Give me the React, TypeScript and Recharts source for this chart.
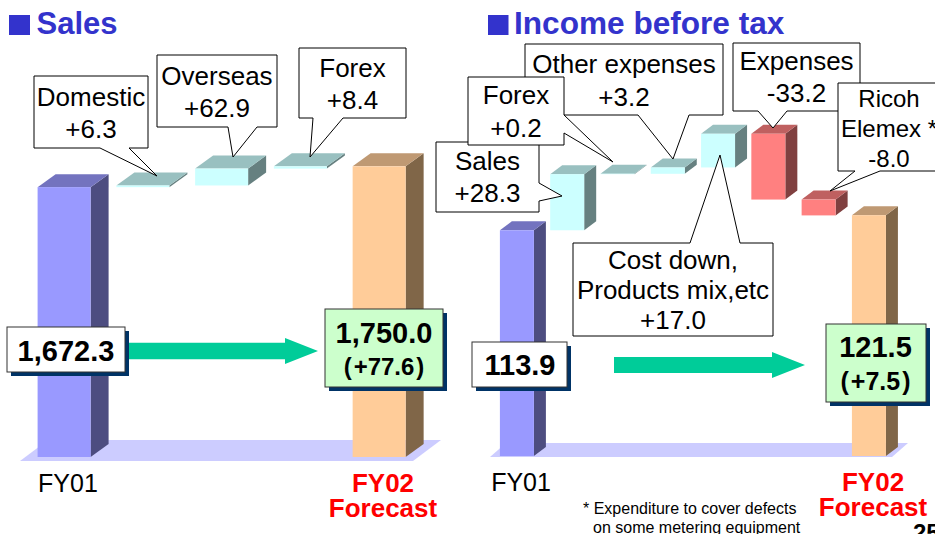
import { Bar, BarChart, XAxis, YAxis } from 'recharts'

const FONT = '"Liberation Sans", Arial, Helvetica, sans-serif'

// Sales (billions of yen)
const salesSteps = ['FY01', 'Domestic', 'Overseas', 'Forex', 'FY02']
const salesValues = [1672.3, 6.3, 62.9, 8.4, 1750.0]
const salesKinds = ['start', 'up', 'up', 'up', 'end']
const salesTicks = ['FY01', '', '', '', 'FY02\nForecast']
const salesChange = 77.6

// Income before tax (billions of yen)
const incomeSteps = [
  'FY01',
  'Sales',
  'Forex',
  'Other expenses',
  'Cost down,\nProducts mix,etc',
  'Expenses',
  'Ricoh\nElemex *',
  'FY02',
]
const incomeValues = [113.9, 28.3, 0.2, 3.2, 17.0, -33.2, -8.0, 121.5]
const incomeKinds = ['start', 'up', 'up', 'up', 'up', 'down', 'down', 'end']
const incomeTicks = ['FY01', '', '', '', '', '', '', 'FY02\nForecast']
const incomeChange = 7.5

const footnote = ['* Expenditure to cover defects', 'on some metering equipment']

type Kind = 'start' | 'up' | 'down' | 'end'

const faces: Record<Kind, { front: string; top: string; side: string }> = {
  start: { front: '#9999ff', top: '#7373bf', side: '#4d4d80' },
  up: { front: '#ccffff', top: '#99c0c0', side: '#668080' },
  down: { front: '#ff8080', top: '#bf6060', side: '#804040' },
  end: { front: '#ffcc99', top: '#bf9973', side: '#806648' },
}

function buildWaterfall(steps: string[], values: number[], kinds: string[], floor: number) {
  let run = 0
  return steps.map((name, i) => {
    const v = values[i]
    const kind = kinds[i] as Kind
    let range: [number, number]
    if (kind === 'start') {
      run = v
      range = [floor, v]
    } else if (kind === 'end') {
      range = [floor, v]
    } else {
      const next = run + v
      range = [Math.min(run, next), Math.max(run, next)]
      run = next
    }
    return { name, range, kind, value: v }
  })
}

const salesData = buildWaterfall(salesSteps, salesValues, salesKinds, 665)
const incomeData = buildWaterfall(incomeSteps, incomeValues, incomeKinds, 0)

// 3D box shape for the bars
const box3d = (dx: number, dy: number) => (props: any) => {
  const { x, y, width, height, payload } = props
  const top = Math.min(y, y + height)
  const h = Math.abs(height)
  const c = faces[payload.kind as Kind]
  const r = x + width
  return (
    <g>
      <polygon
        points={`${r},${top} ${r + dx},${top - dy} ${r + dx},${top + h - dy} ${r},${top + h}`}
        fill={c.side}
      />
      <polygon
        points={`${x},${top} ${x + dx},${top - dy} ${r + dx},${top - dy} ${r},${top}`}
        fill={c.top}
      />
      <rect x={x} y={top} width={width} height={h} fill={c.front} />
    </g>
  )
}

const yearTick = (labels: string[], kinds: string[]) => (p: any) => {
  const idx = p.payload?.index ?? p.index
  const label = labels[idx]
  if (!label) return <g />
  const end = kinds[idx] === 'end'
  const lines = label.split('\n')
  return (
    <g>
      {lines.map((t, k) => (
        <text
          key={k}
          x={p.x + 4}
          y={p.y + 35 + k * 24.5}
          textAnchor='middle'
          fontFamily={FONT}
          fontSize={end ? 26 : 25}
          fontWeight={end ? 700 : 400}
          fill={end ? '#ff0000' : '#000'}
        >
          {t}
        </text>
      ))}
    </g>
  )
}

const fmtChange = (v: number) => (v > 0 ? `+${v.toFixed(1)}` : v.toFixed(1))
const fmtTotal = (v: number) =>
  v.toLocaleString('en-US', { minimumFractionDigits: 1, maximumFractionDigits: 1 })

// callout layout (page coordinates): box [l, t, r, b], wedge side, wedge base a-b, tip
type Callout = {
  i: number
  box: [number, number, number, number]
  side: 'bottom' | 'right' | 'top'
  a: number
  b: number
  tip: [number, number]
  base: number
  lh: number
  fs: number
}

const salesCallouts: Callout[] = [
  { i: 1, box: [34, 76, 148, 148], side: 'bottom', a: 100, b: 129, tip: [157, 176], base: 106, lh: 32, fs: 26 },
  { i: 2, box: [157, 55, 277, 127], side: 'bottom', a: 228, b: 257, tip: [233, 157], base: 85, lh: 32, fs: 26 },
  { i: 3, box: [299, 48, 406, 118], side: 'bottom', a: 313, b: 343, tip: [310, 157], base: 77, lh: 32, fs: 26 },
]

const incomeCallouts: Callout[] = [
  { i: 1, box: [436, 142, 539, 212], side: 'right', a: 183, b: 201, tip: [562, 196], base: 170, lh: 32, fs: 26 },
  { i: 3, box: [525, 44, 723, 115], side: 'bottom', a: 638, b: 689, tip: [673, 159], base: 73, lh: 32.5, fs: 26 },
  { i: 2, box: [468, 77, 564, 145], side: 'right', a: 115, b: 133, tip: [613, 162], base: 104, lh: 32.5, fs: 26 },
  { i: 4, box: [573, 243, 773, 336], side: 'top', a: 690, b: 740, tip: [720, 155], base: 268.5, lh: 30, fs: 26 },
  { i: 5, box: [733, 43, 860, 111], side: 'bottom', a: 758, b: 787, tip: [773, 128], base: 70, lh: 31.7, fs: 26 },
  { i: 6, box: [838, 83, 940, 171], side: 'bottom', a: 855, b: 880, tip: [830, 191], base: 106.7, lh: 30, fs: 24 },
]

function calloutPath(c: Callout) {
  const [l, t, r, b] = c.box
  const [tx, ty] = c.tip
  if (c.side === 'bottom')
    return `M${l},${t} L${r},${t} L${r},${b} L${c.b},${b} L${tx},${ty} L${c.a},${b} L${l},${b} Z`
  if (c.side === 'right')
    return `M${l},${t} L${r},${t} L${r},${c.a} L${tx},${ty} L${r},${c.b} L${r},${b} L${l},${b} Z`
  return `M${l},${t} L${c.a},${t} L${tx},${ty} L${c.b},${t} L${r},${t} L${r},${b} L${l},${b} Z`
}

function CalloutBox({ c, steps, values }: { c: Callout; steps: string[]; values: number[] }) {
  const lines = [...steps[c.i].split('\n'), fmtChange(values[c.i])]
  const cx = (c.box[0] + c.box[2]) / 2
  return (
    <g>
      <path d={calloutPath(c)} fill='#fff' stroke='#000' strokeWidth={1} />
      {lines.map((t, k) => (
        <text
          key={k}
          x={cx}
          y={c.base + k * c.lh}
          textAnchor='middle'
          fontFamily={FONT}
          fontSize={c.fs}
        >
          {t}
        </text>
      ))}
    </g>
  )
}

type ValueBox = {
  box: [number, number, number, number]
  fill: string
  lines: string[]
  sizes: number[]
  bases: number[]
  cx: number
}

const valueBoxes: ValueBox[] = [
  { box: [7, 327, 125, 372], fill: '#ffffff', lines: [fmtTotal(salesValues[0])], sizes: [29], bases: [361], cx: 66 },
  {
    box: [325, 309, 443, 387],
    fill: '#ccffcc',
    lines: [fmtTotal(salesValues[salesValues.length - 1]), `(\u200a+${salesChange.toFixed(1)}\u200a)`],
    sizes: [29, 24],
    bases: [343, 375],
    cx: 384,
  },
  { box: [472, 342, 567, 387], fill: '#ffffff', lines: [fmtTotal(incomeValues[0])], sizes: [29], bases: [375], cx: 520 },
  {
    box: [826, 324, 926, 402],
    fill: '#ccffcc',
    lines: [fmtTotal(incomeValues[incomeValues.length - 1]), `(\u200a+${incomeChange.toFixed(1)}\u200a)`],
    sizes: [29, 25],
    bases: [357, 390],
    cx: 875.5,
  },
]

function ValueLabel({ v }: { v: ValueBox }) {
  const [l, t, r, b] = v.box
  return (
    <g>
      <rect x={l + 4} y={t + 4} width={r - l} height={b - t} fill='#003366' />
      <rect x={l} y={t} width={r - l} height={b - t} fill={v.fill} stroke='#333' strokeWidth={1} />
      {v.lines.map((s, k) => (
        <text
          key={k}
          x={v.cx}
          y={v.bases[k]}
          textAnchor='middle'
          fontFamily={FONT}
          fontWeight={700}
          fontSize={v.sizes[k]}
        >
          {s}
        </text>
      ))}
    </g>
  )
}

function Arrow({ x1, x2, x3, y, sh, hh }: { x1: number; x2: number; x3: number; y: number; sh: number; hh: number }) {
  return (
    <polygon
      points={`${x1},${y - sh} ${x2},${y - sh} ${x2},${y - hh} ${x3},${y} ${x2},${y + hh} ${x2},${y + sh} ${x1},${y + sh}`}
      fill='#00cc99'
    />
  )
}

export default function App() {
  return (
    <div style={{ position: 'relative', width: 935, height: 534, overflow: 'hidden', background: '#fff' }}>
      <style>{'body{margin:0}'}</style>
      <svg width={935} height={534} style={{ position: 'absolute', left: 0, top: 0 }}>
        <polygon points='20,461 413,461 441,440 48,440' fill='#ccccff' />
        <polygon points='490,457 892,457 908,443 506,443' fill='#ccccff' />
      </svg>
      <div style={{ position: 'absolute', left: 0, top: 0 }}>
        <BarChart
          width={470}
          height={534}
          data={salesData}
          margin={{ top: 19, right: 51.6, bottom: 17, left: 24.6 }}
        >
          <XAxis
            dataKey='name'
            axisLine={false}
            tickLine={false}
            tickSize={0}
            tickMargin={0}
            interval={0}
            height={60}
            tick={yearTick(salesTicks, salesKinds)}
          />
          <YAxis hide domain={[665, 2300]} />
          <Bar dataKey='range' barSize={53} shape={box3d(18, 13)} isAnimationActive={false} />
        </BarChart>
      </div>
      <div style={{ position: 'absolute', left: 465, top: 0 }}>
        <BarChart
          width={470}
          height={534}
          data={incomeData}
          margin={{ top: 20, right: 40.8, bottom: 18, left: 26.9 }}
        >
          <XAxis
            dataKey='name'
            axisLine={false}
            tickLine={false}
            tickSize={0}
            tickMargin={0}
            interval={0}
            height={60}
            tick={yearTick(incomeTicks, incomeKinds)}
          />
          <YAxis hide domain={[0, 220]} />
          <Bar dataKey='range' barSize={34} shape={box3d(12, 9)} isAnimationActive={false} />
        </BarChart>
      </div>
      <svg
        width={935}
        height={534}
        style={{ position: 'absolute', left: 0, top: 0, pointerEvents: 'none' }}
      >
        <rect x={9} y={15} width={21} height={20} fill='#3333cc' />
        <text x={36.5} y={34.3} fontFamily={FONT} fontWeight={700} fontSize={31} fill='#3333cc'>
          Sales
        </text>
        <rect x={488} y={15} width={20.5} height={20} fill='#3333cc' />
        <text x={514} y={34.3} fontFamily={FONT} fontWeight={700} fontSize={31.6} fill='#3333cc'>
          Income before tax
        </text>

        {salesCallouts.map((c) => (
          <CalloutBox key={c.i} c={c} steps={salesSteps} values={salesValues} />
        ))}
        {incomeCallouts.map((c) => (
          <CalloutBox key={c.i} c={c} steps={incomeSteps} values={incomeValues} />
        ))}

        <Arrow x1={128} x2={285} x3={318} y={351} sh={8.3} hh={13} />
        <Arrow x1={614} x2={772} x3={805} y={365} sh={8} hh={13} />

        {valueBoxes.map((v, k) => (
          <ValueLabel key={k} v={v} />
        ))}

        <text x={583} y={514} fontFamily={FONT} fontSize={16}>
          {footnote[0]}
        </text>
        <text x={593} y={533} fontFamily={FONT} fontSize={16}>
          {footnote[1]}
        </text>
        <text x={913} y={541} fontFamily={FONT} fontWeight={700} fontSize={24}>
          25
        </text>
      </svg>
    </div>
  )
}
